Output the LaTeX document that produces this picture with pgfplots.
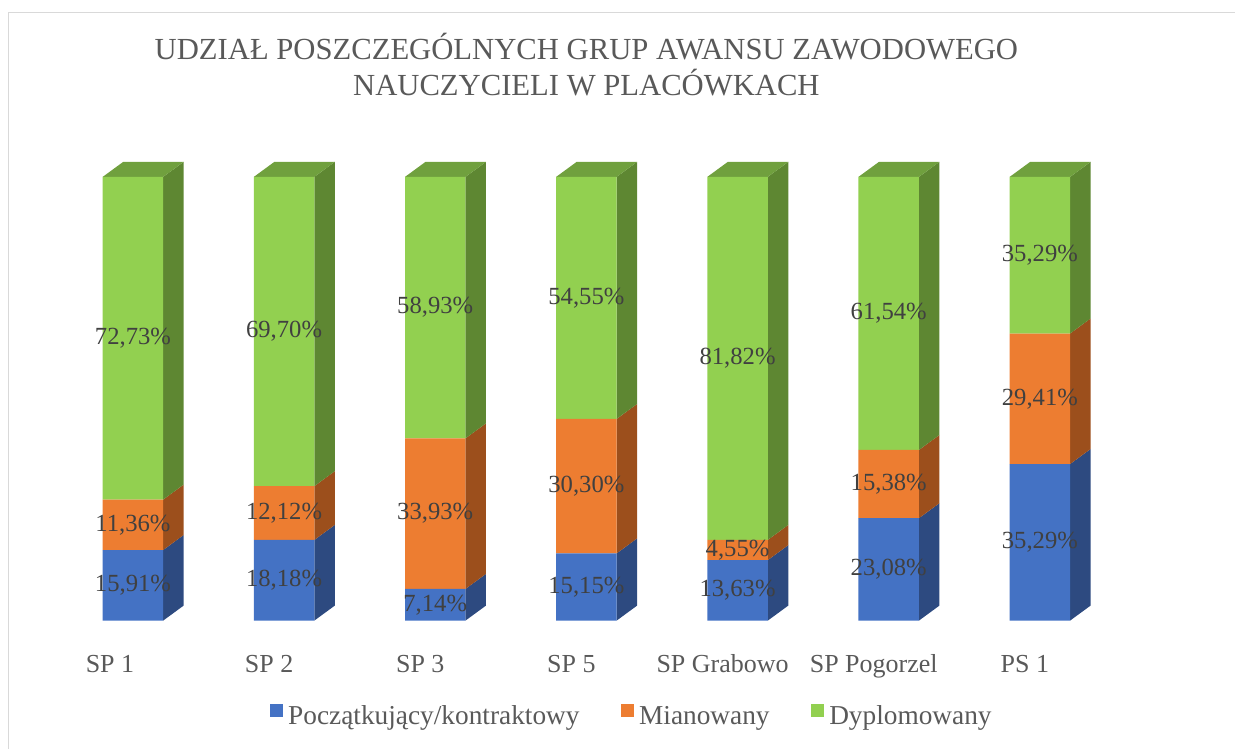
\documentclass[border=0pt]{standalone}
\usepackage{fontspec}
\setmainfont{Liberation Serif}
\usepackage{pgfplots}
\pgfplotsset{compat=1.18}
\definecolor{bF}{HTML}{4472C4}
\definecolor{bS}{HTML}{2D4A80}
\definecolor{oF}{HTML}{ED7D31}
\definecolor{oS}{HTML}{9C4F1C}
\definecolor{gF}{HTML}{92D050}
\definecolor{gS}{HTML}{5E8732}
\definecolor{gT}{HTML}{70A03E}
\definecolor{dl}{HTML}{404040}
\definecolor{cat}{HTML}{595959}
\definecolor{ttl}{HTML}{595959}
\definecolor{frame}{HTML}{D9D9D9}
\begin{document}
\begin{tikzpicture}
\path (0,0) rectangle (927pt,561.75pt);
\draw[color=frame, line width=1.2pt] (6.4pt,0) -- (6.4pt,552.4pt) -- (927pt,552.4pt);
\pgfplotsset{common/.style={at={(43.05pt,96pt)}, anchor=south west, scale only axis,
  width=794.06pt, height=333pt, xmin=-0.5, xmax=6.5, ymin=0, ymax=100, clip=false},
  face/.style={fill=#1, draw=none, forget plot}}
% side and top faces
\begin{axis}[common, hide axis]
% SP 1
\addplot[face=bS] coordinates {(0.2,0) (0.3355,3.38) (0.3355,19.29) (0.2,15.91)};
\addplot[face=oS] coordinates {(0.2,15.91) (0.3355,19.29) (0.3355,30.65) (0.2,27.27)};
\addplot[face=gS] coordinates {(0.2,27.27) (0.3355,30.65) (0.3355,103.38) (0.2,100)};
\addplot[face=gT] coordinates {(-0.2,100) (-0.0645,103.38) (0.3355,103.38) (0.2,100)};
% SP 2
\addplot[face=bS] coordinates {(1.2,0) (1.3355,3.38) (1.3355,21.56) (1.2,18.18)};
\addplot[face=oS] coordinates {(1.2,18.18) (1.3355,21.56) (1.3355,33.68) (1.2,30.30)};
\addplot[face=gS] coordinates {(1.2,30.30) (1.3355,33.68) (1.3355,103.38) (1.2,100)};
\addplot[face=gT] coordinates {(0.8,100) (0.9355,103.38) (1.3355,103.38) (1.2,100)};
% SP 3
\addplot[face=bS] coordinates {(2.2,0) (2.3355,3.38) (2.3355,10.52) (2.2,7.14)};
\addplot[face=oS] coordinates {(2.2,7.14) (2.3355,10.52) (2.3355,44.45) (2.2,41.07)};
\addplot[face=gS] coordinates {(2.2,41.07) (2.3355,44.45) (2.3355,103.38) (2.2,100)};
\addplot[face=gT] coordinates {(1.8,100) (1.9355,103.38) (2.3355,103.38) (2.2,100)};
% SP 5
\addplot[face=bS] coordinates {(3.2,0) (3.3355,3.38) (3.3355,18.53) (3.2,15.15)};
\addplot[face=oS] coordinates {(3.2,15.15) (3.3355,18.53) (3.3355,48.83) (3.2,45.45)};
\addplot[face=gS] coordinates {(3.2,45.45) (3.3355,48.83) (3.3355,103.38) (3.2,100)};
\addplot[face=gT] coordinates {(2.8,100) (2.9355,103.38) (3.3355,103.38) (3.2,100)};
% SP Grabowo
\addplot[face=bS] coordinates {(4.2,0) (4.3355,3.38) (4.3355,17.01) (4.2,13.63)};
\addplot[face=oS] coordinates {(4.2,13.63) (4.3355,17.01) (4.3355,21.56) (4.2,18.18)};
\addplot[face=gS] coordinates {(4.2,18.18) (4.3355,21.56) (4.3355,103.38) (4.2,100)};
\addplot[face=gT] coordinates {(3.8,100) (3.9355,103.38) (4.3355,103.38) (4.2,100)};
% SP Pogorzel
\addplot[face=bS] coordinates {(5.2,0) (5.3355,3.38) (5.3355,26.46) (5.2,23.08)};
\addplot[face=oS] coordinates {(5.2,23.08) (5.3355,26.46) (5.3355,41.84) (5.2,38.46)};
\addplot[face=gS] coordinates {(5.2,38.46) (5.3355,41.84) (5.3355,103.38) (5.2,100)};
\addplot[face=gT] coordinates {(4.8,100) (4.9355,103.38) (5.3355,103.38) (5.2,100)};
% PS 1
\addplot[face=bS] coordinates {(6.2,0) (6.3355,3.38) (6.3355,38.67) (6.2,35.29)};
\addplot[face=oS] coordinates {(6.2,35.29) (6.3355,38.67) (6.3355,68.08) (6.2,64.70)};
\addplot[face=gS] coordinates {(6.2,64.70) (6.3355,68.08) (6.3355,103.37) (6.2,99.99)};
\addplot[face=gT] coordinates {(5.8,99.99) (5.9355,103.37) (6.3355,103.37) (6.2,99.99)};
\end{axis}
% front faces, labels, legend
\begin{axis}[common, ybar stacked, bar width=0.4,
  axis line style={draw=none}, tick style={draw=none}, ytick=\empty,
  xtick={0,...,6},
  xticklabels={\hspace*{-12pt}SP 1,SP 2,SP 3,SP 5,SP Grabowo,SP Pogorzel,PS 1},
  xticklabel style={font=\fontsize{19.5}{23}\selectfont, text=cat, anchor=base, yshift=-39pt, xshift=-11.25pt},
  /pgf/number format/assume math mode=true,
  visualization depends on=rawy \as \rawy,
  nodes near coords={\pgfmathprintnumber[fixed,fixed zerofill,precision=2,use comma]{\rawy}\%},
  every node near coord/.append style={font=\fontsize{18.5}{22}\selectfont, text=dl, anchor=center},
  title={UDZIAŁ POSZCZEGÓLNYCH GRUP AWANSU ZAWODOWEGO\\NAUCZYCIELI W PLACÓWKACH},
  title style={font=\fontsize{23}{27.5}\selectfont, text=ttl, align=center, at={(0.5,1)}, anchor=south, yshift=51pt},
  legend columns=3,
  legend style={draw=none, fill=none, at={(0.5432,-0.216)}, anchor=center,
    font=\fontsize{20.5}{24}\selectfont, text=cat,
    /tikz/every odd column/.append style={column sep=2pt},
    /tikz/every even column/.append style={column sep=29pt}},
  legend image code/.code={\fill[#1] (0pt,-0.5pt) rectangle (9.75pt,9.25pt);},
]
\addplot[fill=bF, draw=none] coordinates {(0,15.91) (1,18.18) (2,7.14) (3,15.15) (4,13.63) (5,23.08) (6,35.29)};
\addplot[fill=oF, draw=none] coordinates {(0,11.36) (1,12.12) (2,33.93) (3,30.30) (4,4.55) (5,15.38) (6,29.41)};
\addplot[fill=gF, draw=none] coordinates {(0,72.73) (1,69.70) (2,58.93) (3,54.55) (4,81.82) (5,61.54) (6,35.29)};
\legend{Początkujący/kontraktowy, Mianowany, Dyplomowany}
\end{axis}
\end{tikzpicture}
\end{document}
